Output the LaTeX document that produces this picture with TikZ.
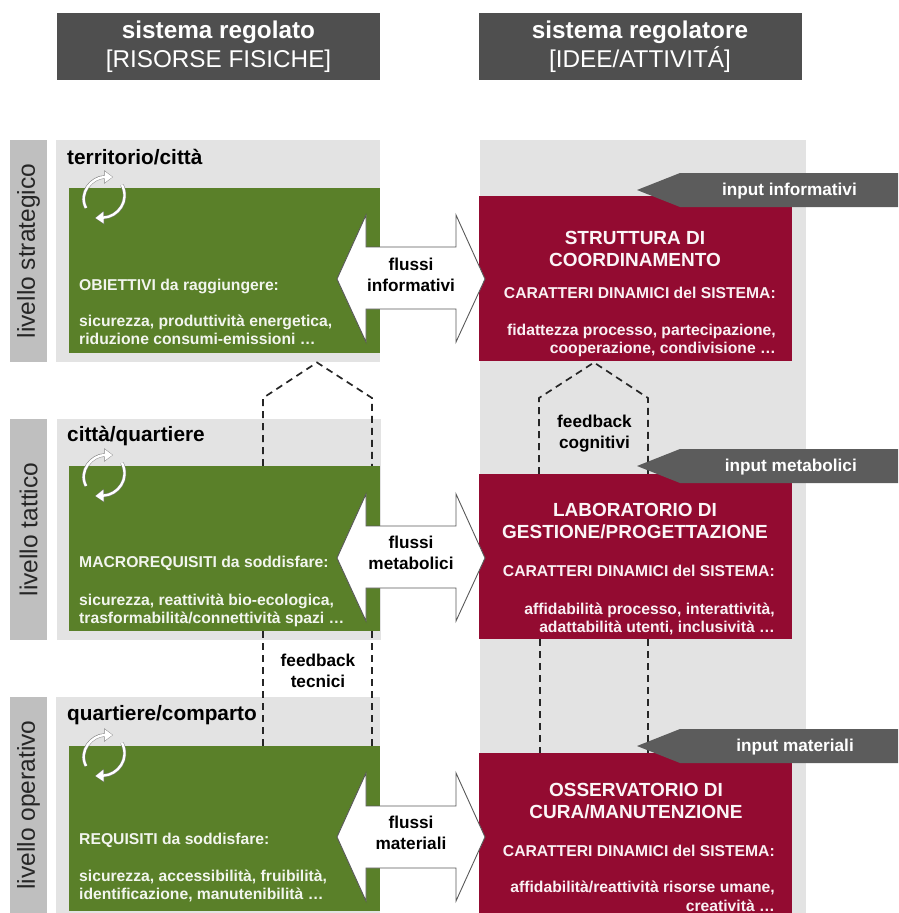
\documentclass[tikz,border=0pt]{standalone}
\usepackage{fontspec}
\setmainfont{Liberation Sans}
\usetikzlibrary{arrows.meta}

\definecolor{verde}{HTML}{5A8029}
\definecolor{rosso}{HTML}{930B31}
\definecolor{grigioscuro}{HTML}{4F4F4F}
\definecolor{grigioinput}{HTML}{5C5C5C}
\definecolor{grigiolivello}{HTML}{BFBFBF}
\definecolor{grigiopannello}{HTML}{E3E3E3}

\tikzset{
	titolo/.style={fill=grigioscuro,text=white,minimum width=323,minimum height=67,inner sep=0,align=center,font=\fontsize{24.3}{28.5}\selectfont},
	livello/.style={fill=grigiolivello,minimum height=37,inner sep=0,text=black!85,font=\fontsize{24.5}{26}\selectfont},
	pannello/.style={fill=grigiopannello,inner sep=0,minimum width=324},
	verdebox/.style={fill=verde,inner sep=0,minimum width=311,minimum height=165},
	rossobox/.style={fill=rosso,inner sep=0,minimum width=313},
	luogo/.style={anchor=west,inner sep=0,font=\bfseries\fontsize{20.8}{23}\selectfont},
	testoverde/.style={anchor=north west,inner sep=0,align=left,text=white!92!verde,font=\bfseries\fontsize{15.7}{18}\selectfont},
	testorosso/.style={anchor=east,inner sep=0,align=right,text=white!94!rosso,font=\bfseries\fontsize{15.7}{18.5}\selectfont},
	nomerosso/.style={inner sep=0,align=center,text=white!96!rosso,font=\bfseries\fontsize{19}{22}\selectfont},
	flussotesto/.style={inner sep=0,align=center,font=\bfseries\fontsize{17.2}{21}\selectfont},
	flusso/.style={draw=black!65,fill=white,line width=0.9pt},
	feedback/.style={black!85,line width=1.7pt,dash pattern=on 7pt off 5pt},
	inputfreccia/.style={fill=grigioinput},
	inputtesto/.style={anchor=east,inner sep=0,text=white,font=\bfseries\fontsize{17.2}{19}\selectfont},
}
\newcommand{\ciclo}[2]{%
	\begin{scope}[shift={(#1,#2)}]
		\draw[black!50,line width=3.4pt,-{Triangle[length=9pt,width=13pt]}] (-18,11) .. controls (-26,-4) and (-12,-20) .. (9,-20);
		\draw[black!50,line width=3.4pt,-{Triangle[length=9pt,width=13pt]}] (18,-12) .. controls (26,4) and (14,20) .. (-9,21);
		\draw[white,line width=2.4pt,-{Triangle[length=8pt,width=11pt]}] (-18,11) .. controls (-26,-4) and (-12,-20) .. (8.5,-20);
		\draw[white,line width=2.4pt,-{Triangle[length=8pt,width=11pt]}] (18,-12) .. controls (26,4) and (14,20) .. (-8.5,21);
	\end{scope}
}

\begin{document}
\begin{tikzpicture}[x=1pt,y=-1pt]
	\useasboundingbox (0,0) rectangle (898,913);

	% intestazioni
	\node[titolo] (regolato) at (218.5,46.5) {\textbf{sistema regolato}\\{}[RISORSE FISICHE]};
	\node[titolo] (regolatore) at (640,46.5) {\textbf{sistema regolatore}\\{}[IDEE/ATTIVITÁ]};

	% colonna dei livelli
	\node[livello,minimum width=222,rotate=90] (strategico) at (28.5,251) {livello strategico};
	\node[livello,minimum width=221,rotate=90] (tattico) at (28.5,529.5) {livello tattico};
	\node[livello,minimum width=216,rotate=90] (operativo) at (28.5,805) {livello operativo};

	% pannelli grigi
	\node[pannello,minimum height=222] (pannelloA) at (218,251) {};
	\node[pannello,minimum height=221] (pannelloB) at (219,529.5) {};
	\node[pannello,minimum height=216] (pannelloC) at (218,805) {};
	\node[pannello,minimum width=326,minimum height=773] (pannelloD) at (643,526.5) {};

	% feedback
	\coordinate (fbA1) at (263,466);
	\coordinate (fbA2) at (263,398);
	\coordinate (fbA3) at (317,362.5);
	\coordinate (fbA4) at (372,398);
	\coordinate (fbA5) at (372,466);
	\coordinate (fbB1) at (539,474);
	\coordinate (fbB2) at (539,398);
	\coordinate (fbB3) at (594,362.5);
	\coordinate (fbB4) at (648,398);
	\coordinate (fbB5) at (648,474);
	\coordinate (fbC1) at (263,631);
	\coordinate (fbC2) at (263,746);
	\coordinate (fbC3) at (372,631);
	\coordinate (fbC4) at (372,746);
	\coordinate (fbD1) at (540,639);
	\coordinate (fbD2) at (540,753);
	\coordinate (fbD3) at (648,639);
	\coordinate (fbD4) at (648,753);
	\draw[feedback] (fbA1) -- (fbA2) -- (fbA3) -- (fbA4) -- (fbA5);
	\draw[feedback] (fbB1) -- (fbB2) -- (fbB3) -- (fbB4) -- (fbB5);
	\draw[feedback] (fbC1) -- (fbC2);
	\draw[feedback] (fbC3) -- (fbC4);
	\draw[feedback] (fbD1) -- (fbD2);
	\draw[feedback] (fbD3) -- (fbD4);

	% riquadri verdi e rossi
	\node[verdebox] (obiettivi) at (224.5,270.5) {};
	\node[verdebox] (macrorequisiti) at (224.5,548.5) {};
	\node[verdebox] (requisiti) at (224.5,828.5) {};
	\node[rossobox,minimum height=165] (struttura) at (635.5,278.5) {};
	\node[rossobox,minimum height=165] (laboratorio) at (635.5,556.5) {};
	\node[rossobox,minimum height=160] (osservatorio) at (635.5,833) {};

	\ciclo{104}{197}
	\ciclo{104}{475}
	\ciclo{104}{755}

	% frecce dei flussi
	\draw[flusso] (337,279) -- ++(29,-64) -- ++(0,32) -- ++(90,0) -- ++(0,-32) -- ++(29,64) -- ++(-29,63) -- ++(0,-33) -- ++(-90,0) -- ++(0,33) -- cycle;
	\draw[flusso] (337,558) -- ++(29,-64) -- ++(0,32) -- ++(90,0) -- ++(0,-32) -- ++(29,64) -- ++(-29,63) -- ++(0,-33) -- ++(-90,0) -- ++(0,33) -- cycle;
	\draw[flusso] (337,837) -- ++(29,-64) -- ++(0,33) -- ++(90,0) -- ++(0,-33) -- ++(29,64) -- ++(-29,64) -- ++(0,-33) -- ++(-90,0) -- ++(0,33) -- cycle;
	\node[flussotesto] (flussiA) at (411,274.5) {flussi\\informativi};
	\node[flussotesto] (flussiB) at (411,552.5) {flussi\\metabolici};
	\node[flussotesto] (flussiC) at (411,833) {flussi\\materiali};

	% frecce di input
	\fill[inputfreccia] (637,190) -- ++(43,-17) -- (898,173) -- (898,207) -- (680,207) -- cycle;
	\fill[inputfreccia] (637,466) -- ++(43,-17) -- (898,449) -- (898,483) -- (680,483) -- cycle;
	\fill[inputfreccia] (637,746) -- ++(43,-17) -- (898,729) -- (898,763) -- (680,763) -- cycle;
	\node[inputtesto] (inputA) at (857,191.5) {input informativi};
	\node[inputtesto] (inputB) at (857,467.5) {input metabolici};
	\node[inputtesto] (inputC) at (854,747.5) {input materiali};

	% testi
	\node[luogo] (cittaA) at (67,157) {territorio/città};
	\node[luogo] (cittaB) at (67,436) {città/quartiere};
	\node[luogo] (cittaC) at (67,715) {quartiere/comparto};

	\node[testoverde] (testoA) at (79,279) {OBIETTIVI da raggiungere:\\[18pt]sicurezza, produttività energetica,\\riduzione consumi-emissioni …};
	\node[testoverde] (testoB) at (79,556) {MACROREQUISITI da soddisfare:\\[20pt]sicurezza, reattività bio-ecologica,\\trasformabilità/connettività spazi …};
	\node[testoverde] (testoC) at (79,833) {REQUISITI da soddisfare:\\[19pt]sicurezza, accessibilità, fruibilità,\\identificazione, manutenibilità …};

	\node[nomerosso] (nomeA) at (635,249) {STRUTTURA DI\\COORDINAMENTO};
	\node[nomerosso] (nomeB) at (635,521) {LABORATORIO DI\\GESTIONE/PROGETTAZIONE};
	\node[nomerosso] (nomeC) at (636,801) {OSSERVATORIO DI\\CURA/MANUTENZIONE};

	\node[testorosso] (caratteriA) at (776,322) {CARATTERI DINAMICI del SISTEMA:\\[18pt]fidattezza processo, partecipazione,\\cooperazione, condivisione …};
	\node[testorosso] (caratteriB) at (775,600.5) {CARATTERI DINAMICI del SISTEMA:\\[19pt]affidabilità processo, interattività,\\adattabilità utenti, inclusività …};
	\node[testorosso] (caratteriC) at (775,878) {CARATTERI DINAMICI del SISTEMA:\\[18pt]affidabilità/reattività risorse umane,\\creatività …};

	\node[flussotesto] (cognitivi) at (594.5,434) {feedback\\cognitivi};
	\node[flussotesto] (tecnici) at (318,670.5) {feedback\\tecnici};
\end{tikzpicture}
\end{document}
